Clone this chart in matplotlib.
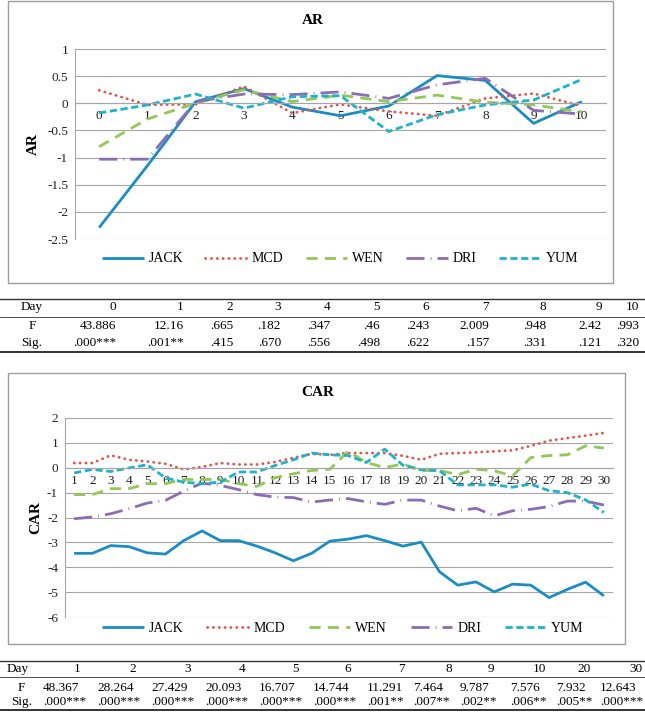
import matplotlib
matplotlib.use('Agg')
import matplotlib.pyplot as plt
from matplotlib.lines import Line2D
from matplotlib.patches import Rectangle

plt.rcParams['font.family'] = ['Liberation Serif', 'DejaVu Serif']

W, H = 645, 716

# ---- data: AR (days 0..10)
ar_days = [0, 1, 2, 3, 4, 5, 6, 7, 8, 9, 10]
ar_jack = [-2.29, -1.15, 0.03, 0.27, -0.07, -0.23, -0.05, 0.51, 0.42, -0.37, 0.03]
ar_mcd = [0.24, -0.03, -0.02, 0.31, -0.18, -0.02, -0.15, -0.23, 0.09, 0.18, -0.05]
ar_wen = [-0.80, -0.29, 0.00, 0.25, 0.03, 0.15, 0.03, 0.15, 0.02, -0.03, -0.16]
ar_dri = [-1.03, -1.03, 0.03, 0.17, 0.16, 0.21, 0.09, 0.34, 0.46, -0.13, -0.20]
ar_yum = [-0.18, -0.03, 0.17, -0.09, 0.12, 0.14, -0.52, -0.21, -0.03, 0.06, 0.44]

# ---- data: CAR (days 1..30)
car_days = list(range(1, 31))
car_jack = [-3.44, -3.44, -3.13, -3.17, -3.42, -3.47, -2.93, -2.54, -2.93, -2.93,
            -3.15, -3.42, -3.74, -3.44, -2.95, -2.87, -2.73, -2.93, -3.15, -2.99,
            -4.18, -4.72, -4.59, -4.99, -4.68, -4.72, -5.22, -4.89, -4.60, -5.15]
car_mcd = [0.19, 0.19, 0.50, 0.32, 0.25, 0.16, -0.07, 0.03, 0.19, 0.13,
           0.13, 0.23, 0.40, 0.56, 0.52, 0.59, 0.59, 0.59, 0.48, 0.32,
           0.56, 0.59, 0.62, 0.66, 0.70, 0.88, 1.09, 1.19, 1.29, 1.40]
car_wen = [-1.08, -1.08, -0.84, -0.84, -0.64, -0.64, -0.47, -0.47, -0.47, -0.64,
           -0.75, -0.40, -0.24, -0.11, -0.06, 0.66, 0.21, 0.01, 0.15, -0.11,
           -0.11, -0.28, -0.06, -0.12, -0.33, 0.41, 0.49, 0.52, 0.88, 0.79]
car_dri = [-2.05, -1.98, -1.85, -1.65, -1.42, -1.31, -0.94, -0.62, -0.71, -0.88,
           -1.08, -1.18, -1.20, -1.38, -1.30, -1.24, -1.37, -1.47, -1.30, -1.30,
           -1.54, -1.73, -1.63, -1.93, -1.73, -1.67, -1.56, -1.34, -1.34, -1.50]
car_yum = [-0.21, -0.07, -0.15, -0.01, 0.12, -0.41, -0.58, -0.64, -0.58, -0.17,
           -0.17, 0.09, 0.32, 0.59, 0.52, 0.49, 0.21, 0.75, 0.10, -0.08,
           -0.12, -0.69, -0.69, -0.69, -0.78, -0.66, -0.92, -1.00, -1.29, -1.80]

# ---- table data
t1_days = ['0', '1', '2', '3', '4', '5', '6', '7', '8', '9', '10']
t1_f = ['43.886', '12.16', '.665', '.182', '.347', '.46', '.243', '2.009', '.948', '2.42', '.993']
t1_sig = ['.000***', '.001**', '.415', '.670', '.556', '.498', '.622', '.157', '.331', '.121', '.320']
t2_days = ['1', '2', '3', '4', '5', '6', '7', '8', '9', '10', '20', '30']
t2_f = ['48.367', '28.264', '27.429', '20.093', '16.707', '14.744', '11.291', '7.464',
        '9.787', '7.576', '7.932', '12.643']
t2_sig = ['.000***', '.000***', '.000***', '.000***', '.000***', '.000***', '.001**',
          '.007**', '.002**', '.006**', '.005**', '.000***']

names = ['JACK', 'MCD', 'WEN', 'DRI', 'YUM']
colors = ['#1B8DC4', '#E4534B', '#92C857', '#8B6DB5', '#1DB3C9']
styles = ['-', (0, (0.1, 2.0)), (0, (4.0, 2.6)), (0, (6.5, 2.2, 0.3, 2.2)), (0, (2.6, 1.3))]
grid_c = '#A6A6A6'


def fx(px):
    return px / W


def fy(py):
    return 1 - py / H


def make_axes(l, r, t, b):
    return fig.add_axes([fx(l), fy(b), fx(r) - fx(l), fy(t) - fy(b)])


def style_axes(ax, ylim, yticks, ylabels, label, lab_x):
    ax.set_ylim(*ylim)
    ax.set_yticks(yticks)
    ax.set_yticklabels(ylabels)
    ax.grid(axis='y', color=grid_c, lw=0.8)
    ax.set_axisbelow(True)
    for s in ['top', 'right']:
        ax.spines[s].set_visible(False)
    ax.spines['left'].set_color(grid_c)
    ax.spines['left'].set_linewidth(0.8)
    ax.spines['bottom'].set_position(('data', 0))
    ax.spines['bottom'].set_color(grid_c)
    ax.spines['bottom'].set_linewidth(0.8)
    ax.tick_params(axis='both', length=0, labelsize=9.5, colors='#222222')
    ax.tick_params(axis='y', pad=5)
    ax.tick_params(axis='x', pad=5)
    ax.set_ylabel(label, fontsize=11, fontweight='bold')
    ax.yaxis.set_label_coords(lab_x, 0.5)


def draw_lines(ax, x, series):
    handles = []
    for ys, c, ls, n in zip(series, colors, styles, names):
        h, = ax.plot(x, ys, color=c, ls=ls, lw=2.0, label=n,
                     dash_capstyle='round' if n == 'MCD' else 'butt', solid_capstyle='butt')
        handles.append(h)
    return handles


fig = plt.figure(figsize=(W / 100, H / 100), dpi=100)

# chart frames
fig.add_artist(Rectangle((fx(8), fy(283)), fx(613) - fx(8), fy(1) - fy(283),
                         transform=fig.transFigure, fill=False, ec='#9E9E9E', lw=1))
fig.add_artist(Rectangle((fx(8), fy(644)), fx(625) - fx(8), fy(373) - fy(644),
                         transform=fig.transFigure, fill=False, ec='#9E9E9E', lw=1))

# ---- AR chart
ax1 = make_axes(75, 606, 49, 239)
h1 = draw_lines(ax1, ar_days, [ar_jack, ar_mcd, ar_wen, ar_dri, ar_yum])
ax1.set_xlim(-0.5, 10.5)
ax1.set_xticks(ar_days)
ax1.set_xticklabels([str(d) for d in ar_days])
style_axes(ax1, (-2.5, 1), [-2.5, -2, -1.5, -1, -0.5, 0, 0.5, 1],
           ['-2.5', '-2', '-1.5', '-1', '-0.5', '0', '0.5', '1'], 'AR', (40 - 75) / 531)
fig.text(fx(313), fy(20), 'AR', ha='center', va='center', fontsize=11, fontweight='bold')
fig.legend(h1, names, loc='center', bbox_to_anchor=(fx(340), fy(259)), ncol=5, frameon=False,
           fontsize=10, handlelength=3.0, handletextpad=0.35, columnspacing=1.6)

# ---- CAR chart
ax2 = make_axes(65, 613, 418, 617)
h2 = draw_lines(ax2, car_days, [car_jack, car_mcd, car_wen, car_dri, car_yum])
ax2.set_xlim(0.5, 30.5)
ax2.set_xticks(car_days)
ax2.set_xticklabels([str(d) for d in car_days])
style_axes(ax2, (-6, 2), [-6, -5, -4, -3, -2, -1, 0, 1, 2],
           ['-6', '-5', '-4', '-3', '-2', '-1', '0', '1', '2'], 'CAR', (42 - 65) / 548)
fig.text(fx(318), fy(393), 'CAR', ha='center', va='center', fontsize=11, fontweight='bold')
fig.legend(h2, names, loc='center', bbox_to_anchor=(fx(343), fy(628)), ncol=5, frameon=False,
           fontsize=10, handlelength=3.0, handletextpad=0.35, columnspacing=1.7)


# ---- tables
def hline(py, lw):
    fig.add_artist(Line2D([0, 1], [fy(py), fy(py)], transform=fig.transFigure,
                          color='#333333', lw=lw))


tfs = 9.5
# table 1
hline(299, 1.0)
hline(317, 0.6)
hline(352, 1.4)
t1_right = [116, 184, 233, 281, 330, 380, 429, 489, 546, 602, 639]
fig.text(fx(32), fy(307), 'Day', ha='center', va='center', fontsize=tfs)
fig.text(fx(32), fy(326), 'F', ha='center', va='center', fontsize=tfs)
fig.text(fx(32), fy(343), 'Sig.', ha='center', va='center', fontsize=tfs)
for xr, d, f, s in zip(t1_right, t1_days, t1_f, t1_sig):
    fig.text(fx(xr), fy(307), d, ha='right', va='center', fontsize=tfs)
    fig.text(fx(xr), fy(326), f, ha='right', va='center', fontsize=tfs)
    fig.text(fx(xr), fy(343), s, ha='right', va='center', fontsize=tfs)

# table 2
hline(661, 1.0)
hline(677, 0.6)
hline(710, 1.4)
t2_right = [81, 136, 191, 245, 299, 351, 405, 452, 494, 546, 591, 643]
t2_left = [43, 97, 151, 205, 259, 313, 367, 413, 460, 510, 556, 600]
fig.text(fx(7), fy(669), 'Day', ha='left', va='center', fontsize=tfs)
fig.text(fx(21), fy(688), 'F', ha='center', va='center', fontsize=tfs)
fig.text(fx(22), fy(702), 'Sig.', ha='center', va='center', fontsize=tfs)
for xr, xl, d, f, s in zip(t2_right, t2_left, t2_days, t2_f, t2_sig):
    fig.text(fx(xr), fy(669), d, ha='right', va='center', fontsize=tfs)
    fig.text(fx(xl), fy(688), f, ha='left', va='center', fontsize=tfs)
    fig.text(fx(xl), fy(702), s, ha='left', va='center', fontsize=tfs)

fig.savefig('out.png', dpi=100)
